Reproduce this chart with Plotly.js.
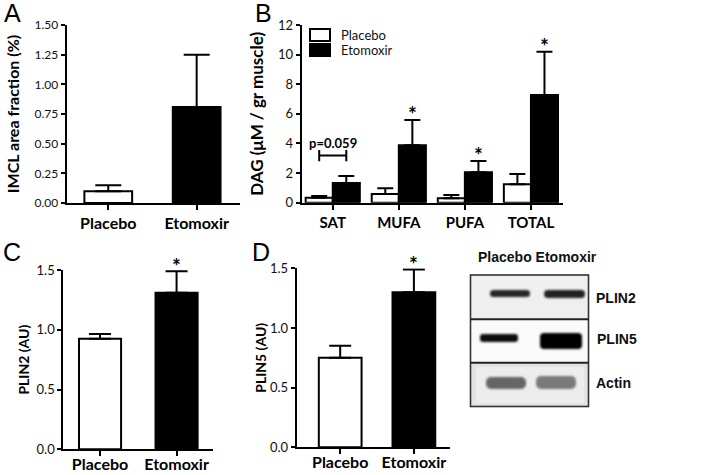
<!DOCTYPE html>
<html>
<head>
<meta charset="utf-8">
<script src="https://cdn.plot.ly/plotly-3.0.1.min.js"></script>
<style>
  html, body { margin: 0; padding: 0; background: #fff; }
  #fig { width: 727px; height: 475px; }
</style>
</head>
<body>
<div id="fig"></div>
<script>
// groups and values
const groups = ['Placebo', 'Etomoxir'];

// A - IMCL area fraction (%)
const imclMean = [0.10, 0.81];
const imclSem = [0.05, 0.44];

// B - DAG (uM / gr muscle)
const dagCats = ['SAT', 'MUFA', 'PUFA', 'TOTAL'];
const dagPlacebo = [0.33, 0.59, 0.30, 1.24];
const dagPlaceboSem = [0.12, 0.38, 0.22, 0.70];
const dagEtomoxir = [1.33, 3.88, 2.05, 7.28];
const dagEtomoxirSem = [0.48, 1.71, 0.77, 2.92];
const dagStars = ['MUFA', 'PUFA', 'TOTAL'];

// C - PLIN2, D - PLIN5 (AU)
const plin2Mean = [0.925, 1.31];
const plin2Sem = [0.04, 0.18];
const plin5Mean = [0.75, 1.30];
const plin5Sem = [0.10, 0.19];

const blotLabels = ['PLIN2', 'PLIN5', 'Actin'];

const W = 727, H = 475;
const fx = x => x / W;
const fy = y => 1 - y / H;
const domX = (a, b) => [a / W, b / W];
const domY = (top, bottom) => [1 - bottom / H, 1 - top / H];

const FONT = 'Lato, "Open Sans", sans-serif';
const ARIAL = '"Liberation Sans", Arial, sans-serif';
const white = '#ffffff', black = '#000000';
const bargap = 0.18;

function xAx(domain, range, anchor, size, standoff) {
  return {
    domain: domain, range: range, anchor: anchor, type: 'category',
    showline: true, linewidth: 2, linecolor: black,
    ticks: 'outside', ticklen: 5, tickwidth: 2, tickcolor: black,
    ticklabelstandoff: standoff || 0,
    tickfont: {family: FONT, size: size, color: black, weight: 'bold'},
    showgrid: false, zeroline: false, fixedrange: true
  };
}

function yAx(domain, range, anchor, tickvals, fmt, tfont, title, tsize, standoff) {
  return {
    domain: domain, range: range, anchor: anchor,
    showline: true, linewidth: 2, linecolor: black,
    ticks: 'outside', ticklen: 4, tickwidth: 2, tickcolor: black,
    tickvals: tickvals, tickformat: fmt,
    tickfont: {family: FONT, size: tfont, color: '#111'},
    showgrid: false, zeroline: false, fixedrange: true,
    title: {text: title, standoff: standoff,
            font: {family: FONT, size: tsize, color: black, weight: 'bold'}}
  };
}

function errs(arr, width) {
  return {type: 'data', array: arr, arrayminus: arr.map(() => 0), symmetric: false,
          color: black, thickness: 2, width: width};
}

const barLine = {color: black, width: 2};

const traces = [
  {type: 'bar', x: groups, y: imclMean, xaxis: 'x', yaxis: 'y', width: 0.54,
   marker: {color: [white, black], line: barLine}, error_y: errs(imclSem, 13),
   showlegend: false, name: 'IMCL'},
  {type: 'bar', x: dagCats, y: dagPlacebo, xaxis: 'x2', yaxis: 'y2', name: groups[0],
   marker: {color: white, line: barLine}, error_y: errs(dagPlaceboSem, 8), showlegend: false},
  {type: 'bar', x: dagCats, y: dagEtomoxir, xaxis: 'x2', yaxis: 'y2', name: groups[1],
   marker: {color: black, line: barLine}, error_y: errs(dagEtomoxirSem, 8), showlegend: false},
  {type: 'bar', x: groups, y: plin2Mean, xaxis: 'x3', yaxis: 'y3', width: 0.55,
   marker: {color: [white, black], line: barLine}, error_y: errs(plin2Sem, 11),
   showlegend: false, name: 'PLIN2'},
  {type: 'bar', x: groups, y: plin5Mean, xaxis: 'x4', yaxis: 'y4', width: 0.58,
   marker: {color: [white, black], line: barLine}, error_y: errs(plin5Sem, 11),
   showlegend: false, name: 'PLIN5'}
];

// offset of a bar inside a group of two
const half = (1 - bargap) / 4;

const annotations = [];
function txt(x, y, text, opts) {
  annotations.push(Object.assign({xref: 'paper', yref: 'paper', x: fx(x), y: fy(y), text: text,
    showarrow: false, xanchor: 'left', yanchor: 'middle',
    font: {family: ARIAL, size: 14, color: '#111', weight: 'bold'}}, opts || {}));
}
function star(xref, yref, x, y) {
  annotations.push({xref: xref, yref: yref, x: x, y: y, text: '*', showarrow: false,
    yanchor: 'middle', yshift: 6, font: {family: FONT, size: 21, color: black, weight: 'bold'}});
}

// panel letters
const letterFont = {family: ARIAL, size: 25, color: black, weight: 'normal'};
txt(2, 0, 'A', {font: letterFont, yanchor: 'top', yshift: 3});
txt(253, 0, 'B', {font: letterFont, yanchor: 'top', yshift: 3});
txt(1, 252, 'C', {font: letterFont});
txt(250, 252, 'D', {font: letterFont});

// significance stars
dagStars.forEach(c => {
  const i = dagCats.indexOf(c);
  star('x2', 'y2', i + half, dagEtomoxir[i] + dagEtomoxirSem[i]);
});
star('x3', 'y3', 1, plin2Mean[1] + plin2Sem[1]);
star('x4', 'y4', 1, plin5Mean[1] + plin5Sem[1]);

// p value over SAT
annotations.push({xref: 'x2', yref: 'y2', x: 0, y: 4.0, text: 'p=0.059', showarrow: false,
  font: {family: FONT, size: 13, color: black, weight: 'bold'}});

// legend of panel B
const legFont = {family: FONT, size: 13, color: '#111'};
txt(340, 35, groups[0], {font: legFont, height: 14, borderpad: 0});
txt(340, 50, groups[1], {font: legFont, height: 14, borderpad: 0});

// western blot labels
txt(537, 257, groups.join(' '), {xanchor: 'center'});
txt(594, 298, blotLabels[0]);
txt(595, 339, blotLabels[1]);
txt(594, 383, blotLabels[2]);

const shapes = [
  // bracket for p value
  {type: 'line', xref: 'x2', yref: 'y2', x0: -half, x1: half, y0: 3.18, y1: 3.18, line: {color: black, width: 2}},
  {type: 'line', xref: 'x2', yref: 'y2', x0: -half, x1: -half, y0: 2.8, y1: 3.56, line: {color: black, width: 2}},
  {type: 'line', xref: 'x2', yref: 'y2', x0: half, x1: half, y0: 2.8, y1: 3.56, line: {color: black, width: 2}},
  // legend swatches
  {type: 'rect', xref: 'paper', yref: 'paper', x0: fx(310), x1: fx(330), y0: fy(41), y1: fy(29),
   fillcolor: white, line: {color: black, width: 2}},
  {type: 'rect', xref: 'paper', yref: 'paper', x0: fx(310), x1: fx(330), y0: fy(56), y1: fy(44),
   fillcolor: black, line: {color: black, width: 2}}
];

// western blot picture
const blotSvg =
  '<svg xmlns="http://www.w3.org/2000/svg" width="130" height="140" viewBox="466 271 130 140">' +
  '<defs><filter id="b" x="-30%" y="-80%" width="160%" height="260%"><feGaussianBlur stdDeviation="1.1"/></filter>' +
  '<filter id="s" x="-10%" y="-10%" width="120%" height="120%"><feGaussianBlur stdDeviation="0.6"/></filter></defs>' +
  '<rect x="470.5" y="275" width="118" height="44" fill="#efefef"/>' +
  '<rect x="470.5" y="319" width="118" height="44" fill="#fafafa"/>' +
  '<rect x="470.5" y="363" width="118" height="43.5" fill="#e2e2e2"/>' +
  '<rect x="476" y="367" width="108" height="36" fill="#ececec" filter="url(#s)"/>' +
  '<g filter="url(#b)">' +
  '<rect x="490" y="290" width="40" height="7" rx="3.5" fill="#262626"/>' +
  '<rect x="544" y="290" width="41" height="8" rx="4" fill="#222"/>' +
  '<rect x="480" y="334" width="38" height="8" rx="3" fill="#111"/>' +
  '<rect x="540" y="333" width="42" height="16" rx="4" fill="#000"/>' +
  '<rect x="486" y="377" width="40" height="12" rx="5" fill="#666"/>' +
  '<rect x="536" y="376" width="40" height="13" rx="5" fill="#7a7a7a"/>' +
  '</g>' +
  '<rect x="470.5" y="275" width="118" height="131.5" fill="none" stroke="#333" stroke-width="1.6"/>' +
  '<line x1="470.5" x2="588.5" y1="319.3" y2="319.3" stroke="#222" stroke-width="2"/>' +
  '<line x1="470.5" x2="588.5" y1="362.7" y2="362.7" stroke="#222" stroke-width="2"/>' +
  '</svg>';

const layout = {
  width: W, height: H,
  margin: {l: 0, r: 0, t: 0, b: 0},
  paper_bgcolor: white, plot_bgcolor: 'rgba(0,0,0,0)',
  showlegend: false,
  barmode: 'group', bargap: bargap, bargroupgap: 0,
  font: {family: FONT, color: black},
  xaxis: xAx(domX(66.7, 240), [-0.47, 1.49], 'y', 16),
  yaxis: yAx(domY(25, 203), [0, 1.5], 'x', [0, 0.25, 0.5, 0.75, 1, 1.25, 1.5], '.2f', 12,
             'IMCL area fraction (%)', 16, 11),
  xaxis2: xAx(domX(301.7, 563.3), [-0.47, 3.49], 'y2', 15),
  yaxis2: yAx(domY(25, 202.7), [0, 12], 'x2', [0, 2, 4, 6, 8, 10, 12], 'd', 13,
              'DAG (μM / gr muscle)', 17, 10),
  xaxis3: xAx(domX(63.3, 213.3), [-0.48, 1.48], 'y3', 16, -6),
  yaxis3: yAx(domY(270, 449.3), [0, 1.5], 'x3', [0, 0.5, 1, 1.5], '.1f', 13,
              'PLIN2 (AU)', 14, 4),
  xaxis4: xAx(domX(296.7, 450), [-0.59, 1.49], 'y4', 16, -6),
  yaxis4: yAx(domY(268.3, 447.3), [0, 1.5], 'x4', [0, 0.5, 1, 1.5], '.1f', 13,
              'PLIN5 (AU)', 14, 0),
  annotations: annotations,
  shapes: shapes,
  images: [{
    source: 'data:image/svg+xml;charset=utf-8,' + encodeURIComponent(blotSvg),
    xref: 'paper', yref: 'paper', x: fx(466), y: fy(271),
    sizex: 130 / W, sizey: 140 / H, xanchor: 'left', yanchor: 'top',
    sizing: 'stretch', layer: 'above'
  }]
};

Plotly.newPlot('fig', traces, layout, {staticPlot: true, displayModeBar: false});
</script>
</body>
</html>
